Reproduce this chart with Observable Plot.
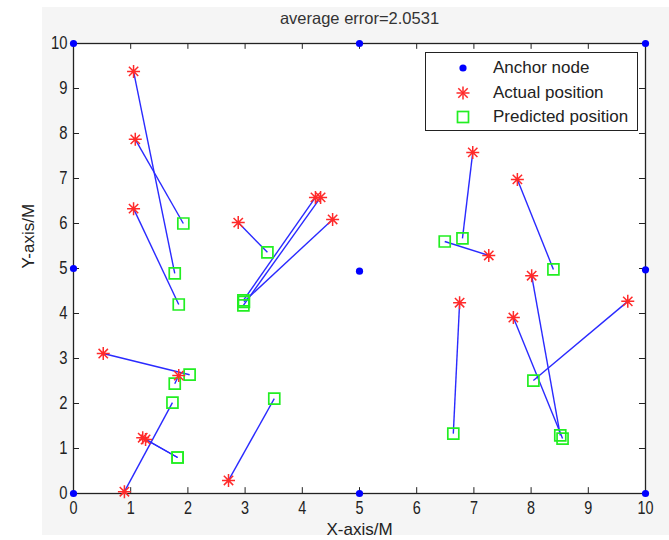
<!DOCTYPE html>
<html>
<head>
<meta charset="utf-8">
<script src="https://cdn.jsdelivr.net/npm/d3@7"></script>
<script src="https://cdn.jsdelivr.net/npm/@observablehq/plot@0.6"></script>
<style>
  html, body { margin: 0; padding: 0; background: #ffffff; }
  #wrap { position: relative; width: 669px; height: 540px; overflow: hidden; }
  #bg { position: absolute; left: 42px; top: 7px; width: 627px; height: 528px; background: #f5f5f5; }
  #chart { position: absolute; left: 0; top: 0; }
  #legend { position: absolute; left: 425px; top: 52px; width: 211px; height: 77px;
            border: 1px solid #222; background: #fff;
            font-family: "Liberation Sans", Arial, sans-serif; font-size: 17px; color: #222; }
  .row { position: absolute; left: 0; height: 24px; display: flex; align-items: center; }
  .row svg { width: 30px; height: 20px; margin-left: 22px; }
  .row span { margin-left: 15px; }
</style>
</head>
<body>
<div id="wrap">
  <div id="bg"></div>
  <div id="chart"></div>
  <div id="legend"></div>
</div>
<script>
// ---- data ----
const titleText = "average error=2.0531";
const xLabel = "X-axis/M";
const yLabel = "Y-axis/M";
const legendLabels = ["Anchor node", "Actual position", "Predicted position"];
const xTicks = [0, 1, 2, 3, 4, 5, 6, 7, 8, 9, 10];
const yTicks = [0, 1, 2, 3, 4, 5, 6, 7, 8, 9, 10];

const anchorX = [0, 5, 10, 0, 5, 10, 0, 5, 10];
const anchorY = [0, 0, 0, 5, 4.94, 4.97, 10, 10, 10];

const actualX    = [1.05, 1.08, 1.05, 2.88, 4.23, 4.32, 4.53, 0.52, 1.84, 0.89, 1.21, 1.26, 2.71, 6.98, 7.26, 7.76, 8.01, 7.69, 9.69, 6.75];
const actualY    = [9.38, 7.87, 6.33, 6.02, 6.58, 6.58, 6.09, 3.11, 2.62, 0.04, 1.24, 1.20, 0.29, 7.58, 5.29, 6.98, 4.84, 3.91, 4.27, 4.24];
const predictedX = [1.77, 1.92, 1.84, 3.39, 2.97, 2.97, 2.98, 2.03, 1.77, 1.73, 1.82, 1.82, 3.51, 6.80, 6.49, 8.39, 8.51, 8.55, 8.04, 6.64];
const predictedY = [4.89, 6.00, 4.20, 5.36, 4.29, 4.18, 4.26, 2.64, 2.44, 2.02, 0.80, 0.80, 2.11, 5.67, 5.60, 4.98, 1.29, 1.22, 2.51, 1.33];

const anchors = anchorX.map((x, i) => ({x, y: anchorY[i]}));
const pairs = actualX.map((x, i) => ({ax: x, ay: actualY[i], px: predictedX[i], py: predictedY[i]}));

// MATLAB-style 8-armed asterisk
const asterisk = {
  draw(ctx, size) {
    const r = Math.sqrt(size / Math.PI);
    const d = r * 0.72;
    ctx.moveTo(-r, 0); ctx.lineTo(r, 0);
    ctx.moveTo(0, -r); ctx.lineTo(0, r);
    ctx.moveTo(-d, -d); ctx.lineTo(d, d);
    ctx.moveTo(-d, d); ctx.lineTo(d, -d);
  }
};

const font = "Liberation Sans, Arial, sans-serif";
const tickLenY = 0.13;  // in y units (~6px)
const tickLenX = 0.105; // in x units (~6px)

const chart = Plot.plot({
  width: 669,
  height: 540,
  marginLeft: 73,
  marginRight: 24,
  marginTop: 43,
  marginBottom: 47,
  style: {background: "transparent", fontFamily: font, overflow: "visible"},
  x: {domain: [0, 10], label: null},
  y: {domain: [0, 10], label: null},
  marks: [
    Plot.frame({fill: "white", stroke: null}),
    Plot.ruleX(xTicks, {x: d => d, y1: 0, y2: tickLenY, stroke: "#222", strokeWidth: 1}),
    Plot.ruleX(xTicks, {x: d => d, y1: 10 - tickLenY, y2: 10, stroke: "#222", strokeWidth: 1}),
    Plot.ruleY(yTicks, {y: d => d, x1: 0, x2: tickLenX, stroke: "#222", strokeWidth: 1}),
    Plot.ruleY(yTicks, {y: d => d, x1: 10 - tickLenX, x2: 10, stroke: "#222", strokeWidth: 1}),
    Plot.axisX(xTicks, {tickSize: 0, tickPadding: 8, fontSize: 18, fill: "#222", label: null}),
    Plot.axisY(yTicks, {tickSize: 0, tickPadding: 6, fontSize: 18.5, fill: "#222", label: null}),
    Plot.frame({stroke: "#222", strokeWidth: 1.3}),
    Plot.link(pairs, {x1: "ax", y1: "ay", x2: "px", y2: "py", stroke: "#2a2aff", strokeWidth: 1.4}),
    Plot.dot(pairs, {x: "px", y: "py", symbol: "square", r: 6.2, fill: "none", stroke: "#22ee22", strokeWidth: 1.7}),
    Plot.dot(pairs, {x: "ax", y: "ay", symbol: asterisk, r: 6.5, stroke: "#ff2a2a", strokeWidth: 1.5}),
    Plot.dot(anchors, {x: "x", y: "y", r: 3.6, fill: "#0000ff", stroke: null}),
    Plot.text([titleText], {frameAnchor: "top", dy: -25, fontSize: 16.5, fill: "#333", lineAnchor: "middle"}),
    Plot.text([xLabel], {frameAnchor: "bottom", dy: 36.5, fontSize: 17, fill: "#222", lineAnchor: "middle"}),
    Plot.text([yLabel], {frameAnchor: "left", dx: -45, rotate: -90, fontSize: 17, fill: "#222", lineAnchor: "middle"})
  ]
});
document.getElementById("chart").appendChild(chart);

// condense tick labels horizontally (narrow MATLAB-style digits)
d3.select(chart).selectAll('g[aria-label="x-axis tick label"] text, g[aria-label="y-axis tick label"] text')
  .each(function() {
    const t = this.getAttribute("transform") || "";
    this.setAttribute("transform", t + " scale(0.8,1)");
  });

// legend
const legend = document.getElementById("legend");
const sym = [
  '<svg viewBox="-15 -10 30 20"><circle r="3.6" fill="#0000ff"/></svg>',
  '<svg viewBox="-15 -10 30 20"><g stroke="#ff2a2a" stroke-width="1.5"><line x1="-6.5" y1="0" x2="6.5" y2="0"/><line x1="0" y1="-6.5" x2="0" y2="6.5"/><line x1="-4.7" y1="-4.7" x2="4.7" y2="4.7"/><line x1="-4.7" y1="4.7" x2="4.7" y2="-4.7"/></g></svg>',
  '<svg viewBox="-15 -10 30 20"><rect x="-5.5" y="-5.5" width="11" height="11" fill="none" stroke="#22ee22" stroke-width="1.7"/></svg>'
];
const tops = [3, 28, 52];
legendLabels.forEach((t, i) => {
  const row = document.createElement("div");
  row.className = "row";
  row.style.top = tops[i] + "px";
  row.innerHTML = sym[i] + "<span>" + t + "</span>";
  legend.appendChild(row);
});
</script>
</body>
</html>
